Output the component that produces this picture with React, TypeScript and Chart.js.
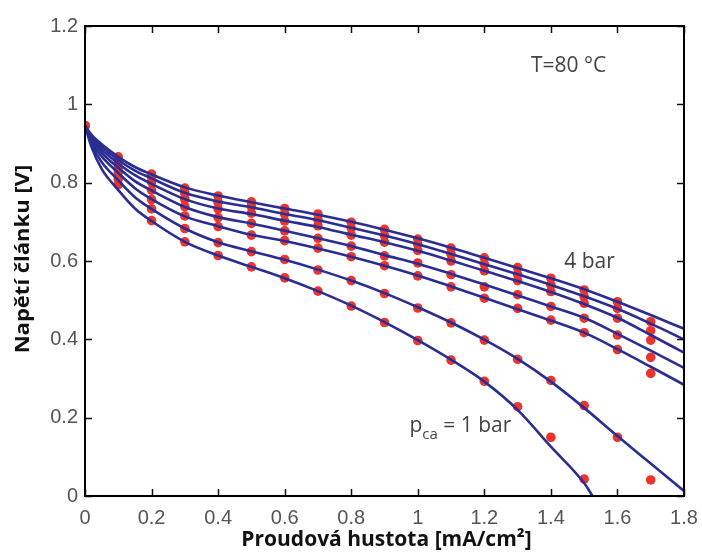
import React, { useEffect, useRef } from 'react';
import { Chart, registerables } from 'chart.js';

Chart.register(...registerables);

// ---- data ----
const xTickLabels = ['0', '0.2', '0.4', '0.6', '0.8', '1', '1.2', '1.4', '1.6', '1.8'];
const yTickLabels = ['0', '0.2', '0.4', '0.6', '0.8', '1', '1.2'];

// model curves (x positions in mA/cm2)
const lineX = [0, 0.02, 0.05, 0.1, 0.15, 0.2, 0.3, 0.4, 0.5, 0.6, 0.7, 0.8, 0.9, 1.0, 1.1, 1.2, 1.3, 1.4, 1.5, 1.6, 1.7, 1.8];
const line4bar = [0.945, 0.922, 0.898, 0.866, 0.840, 0.821, 0.788, 0.767, 0.750, 0.734, 0.718, 0.700, 0.680, 0.658, 0.634, 0.608, 0.582, 0.556, 0.528, 0.496, 0.462, 0.427];
const line35bar = [0.945, 0.918, 0.892, 0.858, 0.831, 0.811, 0.774, 0.752, 0.737, 0.720, 0.704, 0.685, 0.665, 0.643, 0.618, 0.592, 0.566, 0.539, 0.510, 0.478, 0.440, 0.400];
const line3bar = [0.945, 0.914, 0.885, 0.849, 0.819, 0.797, 0.758, 0.734, 0.720, 0.703, 0.687, 0.667, 0.648, 0.626, 0.601, 0.575, 0.549, 0.521, 0.490, 0.455, 0.411, 0.366];
const line25bar = [0.945, 0.909, 0.877, 0.838, 0.804, 0.780, 0.738, 0.712, 0.696, 0.677, 0.658, 0.638, 0.615, 0.593, 0.567, 0.540, 0.512, 0.484, 0.455, 0.414, 0.371, 0.327];
const line2bar = [0.945, 0.903, 0.867, 0.825, 0.786, 0.758, 0.714, 0.689, 0.667, 0.651, 0.632, 0.611, 0.588, 0.563, 0.535, 0.506, 0.477, 0.448, 0.417, 0.375, 0.330, 0.284];
const line15bar = [0.945, 0.897, 0.853, 0.806, 0.763, 0.733, 0.683, 0.648, 0.625, 0.603, 0.578, 0.550, 0.518, 0.482, 0.443, 0.399, 0.350, 0.292, 0.225, 0.153, 0.083, 0.013];
const line1barX = [0, 0.02, 0.05, 0.1, 0.15, 0.2, 0.3, 0.4, 0.5, 0.6, 0.7, 0.8, 0.9, 1.0, 1.1, 1.2, 1.3, 1.4, 1.5, 1.525];
const line1bar = [0.945, 0.890, 0.835, 0.781, 0.734, 0.702, 0.649, 0.614, 0.585, 0.556, 0.523, 0.486, 0.444, 0.398, 0.348, 0.292, 0.220, 0.126, 0.033, 0];

// measured points
const dotX = [0, 0.1, 0.2, 0.3, 0.4, 0.5, 0.6, 0.7, 0.8, 0.9, 1.0, 1.1, 1.2, 1.3, 1.4, 1.5, 1.6, 1.7];
const dots4bar = [0.945, 0.866, 0.822, 0.786, 0.766, 0.751, 0.734, 0.720, 0.699, 0.681, 0.656, 0.633, 0.608, 0.583, 0.556, 0.526, 0.496, 0.445];
const dots35bar = [0.945, 0.858, 0.815, 0.773, 0.750, 0.739, 0.720, 0.706, 0.684, 0.665, 0.643, 0.617, 0.592, 0.566, 0.539, 0.509, 0.479, 0.422];
const dots3bar = [0.945, 0.850, 0.802, 0.757, 0.733, 0.722, 0.702, 0.690, 0.666, 0.648, 0.627, 0.600, 0.575, 0.550, 0.522, 0.492, 0.454, 0.398];
const dots25bar = [0.945, 0.838, 0.781, 0.739, 0.711, 0.696, 0.677, 0.658, 0.638, 0.613, 0.595, 0.565, 0.534, 0.514, 0.484, 0.454, 0.411, 0.354];
const dots2bar = [0.945, 0.826, 0.757, 0.715, 0.688, 0.666, 0.652, 0.633, 0.611, 0.588, 0.562, 0.534, 0.505, 0.479, 0.449, 0.417, 0.374, 0.313];
const dots15bar = [0.945, 0.810, 0.733, 0.683, 0.647, 0.624, 0.604, 0.577, 0.550, 0.517, 0.480, 0.442, 0.398, 0.349, 0.295, 0.231, 0.150, 0.041];
const dots1bar = [0.945, 0.795, 0.703, 0.649, 0.614, 0.585, 0.557, 0.523, 0.485, 0.443, 0.397, 0.347, 0.293, 0.228, 0.150, 0.043, null, null];

const xTitle = 'Proudová hustota [mA/cm²]';
const yTitle = 'Napětí článku [V]';
const tempLabel = 'T=80 °C';
const highLabel = '4 bar';
const lowLabelMain = 'p';
const lowLabelSub = 'ca';
const lowLabelRest = ' = 1 bar';

const LINE_COLOR = 'rgb(42, 46, 146)';
const DOT_COLOR = 'rgb(235, 52, 45)';

function toPts(xs: number[], ys: (number | null)[]) {
  const out: { x: number; y: number }[] = [];
  xs.forEach((x, i) => {
    const y = ys[i];
    if (y !== null && y !== undefined) out.push({ x, y });
  });
  return out;
}

const framePlugin = {
  id: 'frameAndText',
  afterDatasetsDraw(chart: any) {
    const { ctx, chartArea: a, scales } = chart;
    const xs = scales.x;
    const ys = scales.y;
    ctx.save();
    ctx.strokeStyle = '#111';
    ctx.lineWidth = 1.5;
    const L = 7;
    ctx.beginPath();
    xs.ticks.forEach((t: any) => {
      const px = Math.round(xs.getPixelForValue(t.value)) + 0.5;
      ctx.moveTo(px, a.bottom);
      ctx.lineTo(px, a.bottom - L);
      ctx.moveTo(px, a.top);
      ctx.lineTo(px, a.top + L);
    });
    ys.ticks.forEach((t: any) => {
      const py = Math.round(ys.getPixelForValue(t.value)) + 0.5;
      ctx.moveTo(a.left, py);
      ctx.lineTo(a.left + L, py);
      ctx.moveTo(a.right, py);
      ctx.lineTo(a.right - L, py);
    });
    ctx.stroke();
    ctx.lineWidth = 2;
    ctx.strokeStyle = '#000';
    ctx.strokeRect(a.left, a.top, a.right - a.left, a.bottom - a.top);

    // annotations
    ctx.fillStyle = '#444';
    ctx.textBaseline = 'middle';
    ctx.textAlign = 'left';
    ctx.font = '21px "Open Sans"';
    ctx.fillText(tempLabel, xs.getPixelForValue(1.34), ys.getPixelForValue(1.098));
    ctx.fillText(highLabel, xs.getPixelForValue(1.44), ys.getPixelForValue(0.597));

    const px0 = xs.getPixelForValue(0.975);
    const py0 = ys.getPixelForValue(0.178);
    ctx.font = '21px "Open Sans"';
    ctx.fillText(lowLabelMain, px0, py0);
    let w = ctx.measureText(lowLabelMain).width;
    ctx.font = '15px "Open Sans"';
    ctx.fillText(lowLabelSub, px0 + w, py0 + 8);
    w += ctx.measureText(lowLabelSub).width;
    ctx.font = '21px "Open Sans"';
    ctx.fillText(lowLabelRest, px0 + w, py0);

    // axis titles
    ctx.fillStyle = '#111';
    ctx.textAlign = 'center';
    ctx.font = 'bold 21px "Open Sans"';
    ctx.fillText(xTitle, (a.left + a.right) / 2 + 2, 540);
    ctx.save();
    ctx.translate(23, (a.top + a.bottom) / 2 - 2);
    ctx.rotate(-Math.PI / 2);
    ctx.scale(1.1, 1);
    ctx.font = 'bold 20px "Open Sans"';
    ctx.fillText(yTitle, 0, 0);
    ctx.restore();
    ctx.restore();
  },
};

export default function App() {
  const ref = useRef<HTMLCanvasElement | null>(null);

  useEffect(() => {
    if (!ref.current) return;
    const lineSets = [
      { x: lineX, y: line4bar },
      { x: lineX, y: line35bar },
      { x: lineX, y: line3bar },
      { x: lineX, y: line25bar },
      { x: lineX, y: line2bar },
      { x: lineX, y: line15bar },
      { x: line1barX, y: line1bar },
    ];
    const dotSets = [dots4bar, dots35bar, dots3bar, dots25bar, dots2bar, dots15bar, dots1bar];

    const datasets: any[] = [];
    lineSets.forEach((s) => {
      datasets.push({
        data: toPts(s.x, s.y),
        showLine: true,
        borderColor: LINE_COLOR,
        borderWidth: 2.6,
        pointRadius: 0,
        cubicInterpolationMode: 'monotone',
        fill: false,
        order: 0,
      });
    });
    dotSets.forEach((d) => {
      datasets.push({
        data: toPts(dotX, d),
        showLine: false,
        pointRadius: 4.8,
        pointBackgroundColor: DOT_COLOR,
        pointBorderWidth: 0,
        pointBorderColor: DOT_COLOR,
        order: 1,
      });
    });

    const tickFont = { family: '"Liberation Sans", Arial, sans-serif', size: 20 };
    const chart = new Chart(ref.current, {
      type: 'scatter',
      data: { datasets },
      plugins: [framePlugin],
      options: {
        animation: false,
        responsive: false,
        layout: { padding: { left: 0, top: 26, right: 18, bottom: 0 } },
        plugins: { legend: { display: false }, tooltip: { enabled: false } },
        scales: {
          x: {
            type: 'linear',
            min: 0,
            max: 1.8,
            afterFit: (s: any) => {
              s.height = 58;
              s.paddingLeft = 0;
              s.paddingRight = 0;
            },
            grid: { display: false, drawTicks: false },
            border: { display: false },
            ticks: {
              stepSize: 0.2,
              padding: 10,
              color: '#555',
              font: tickFont,
              maxRotation: 0,
              autoSkip: false,
              callback: (_v: any, i: number) => xTickLabels[i],
            },
          },
          y: {
            type: 'linear',
            min: 0,
            max: 1.2,
            afterFit: (s: any) => {
              s.width = 85;
              s.paddingTop = 0;
              s.paddingBottom = 0;
            },
            grid: { display: false, drawTicks: false },
            border: { display: false },
            ticks: {
              stepSize: 0.2,
              padding: 7,
              color: '#555',
              font: tickFont,
              autoSkip: false,
              callback: (_v: any, i: number) => yTickLabels[i],
            },
          },
        },
      } as any,
    });
    return () => chart.destroy();
  }, []);

  return (
    <div style={{ position: 'fixed', left: 0, top: 0, width: 702, height: 554, background: '#fff' }}>
      <canvas ref={ref} width={702} height={554} style={{ display: 'block' }} />
    </div>
  );
}
